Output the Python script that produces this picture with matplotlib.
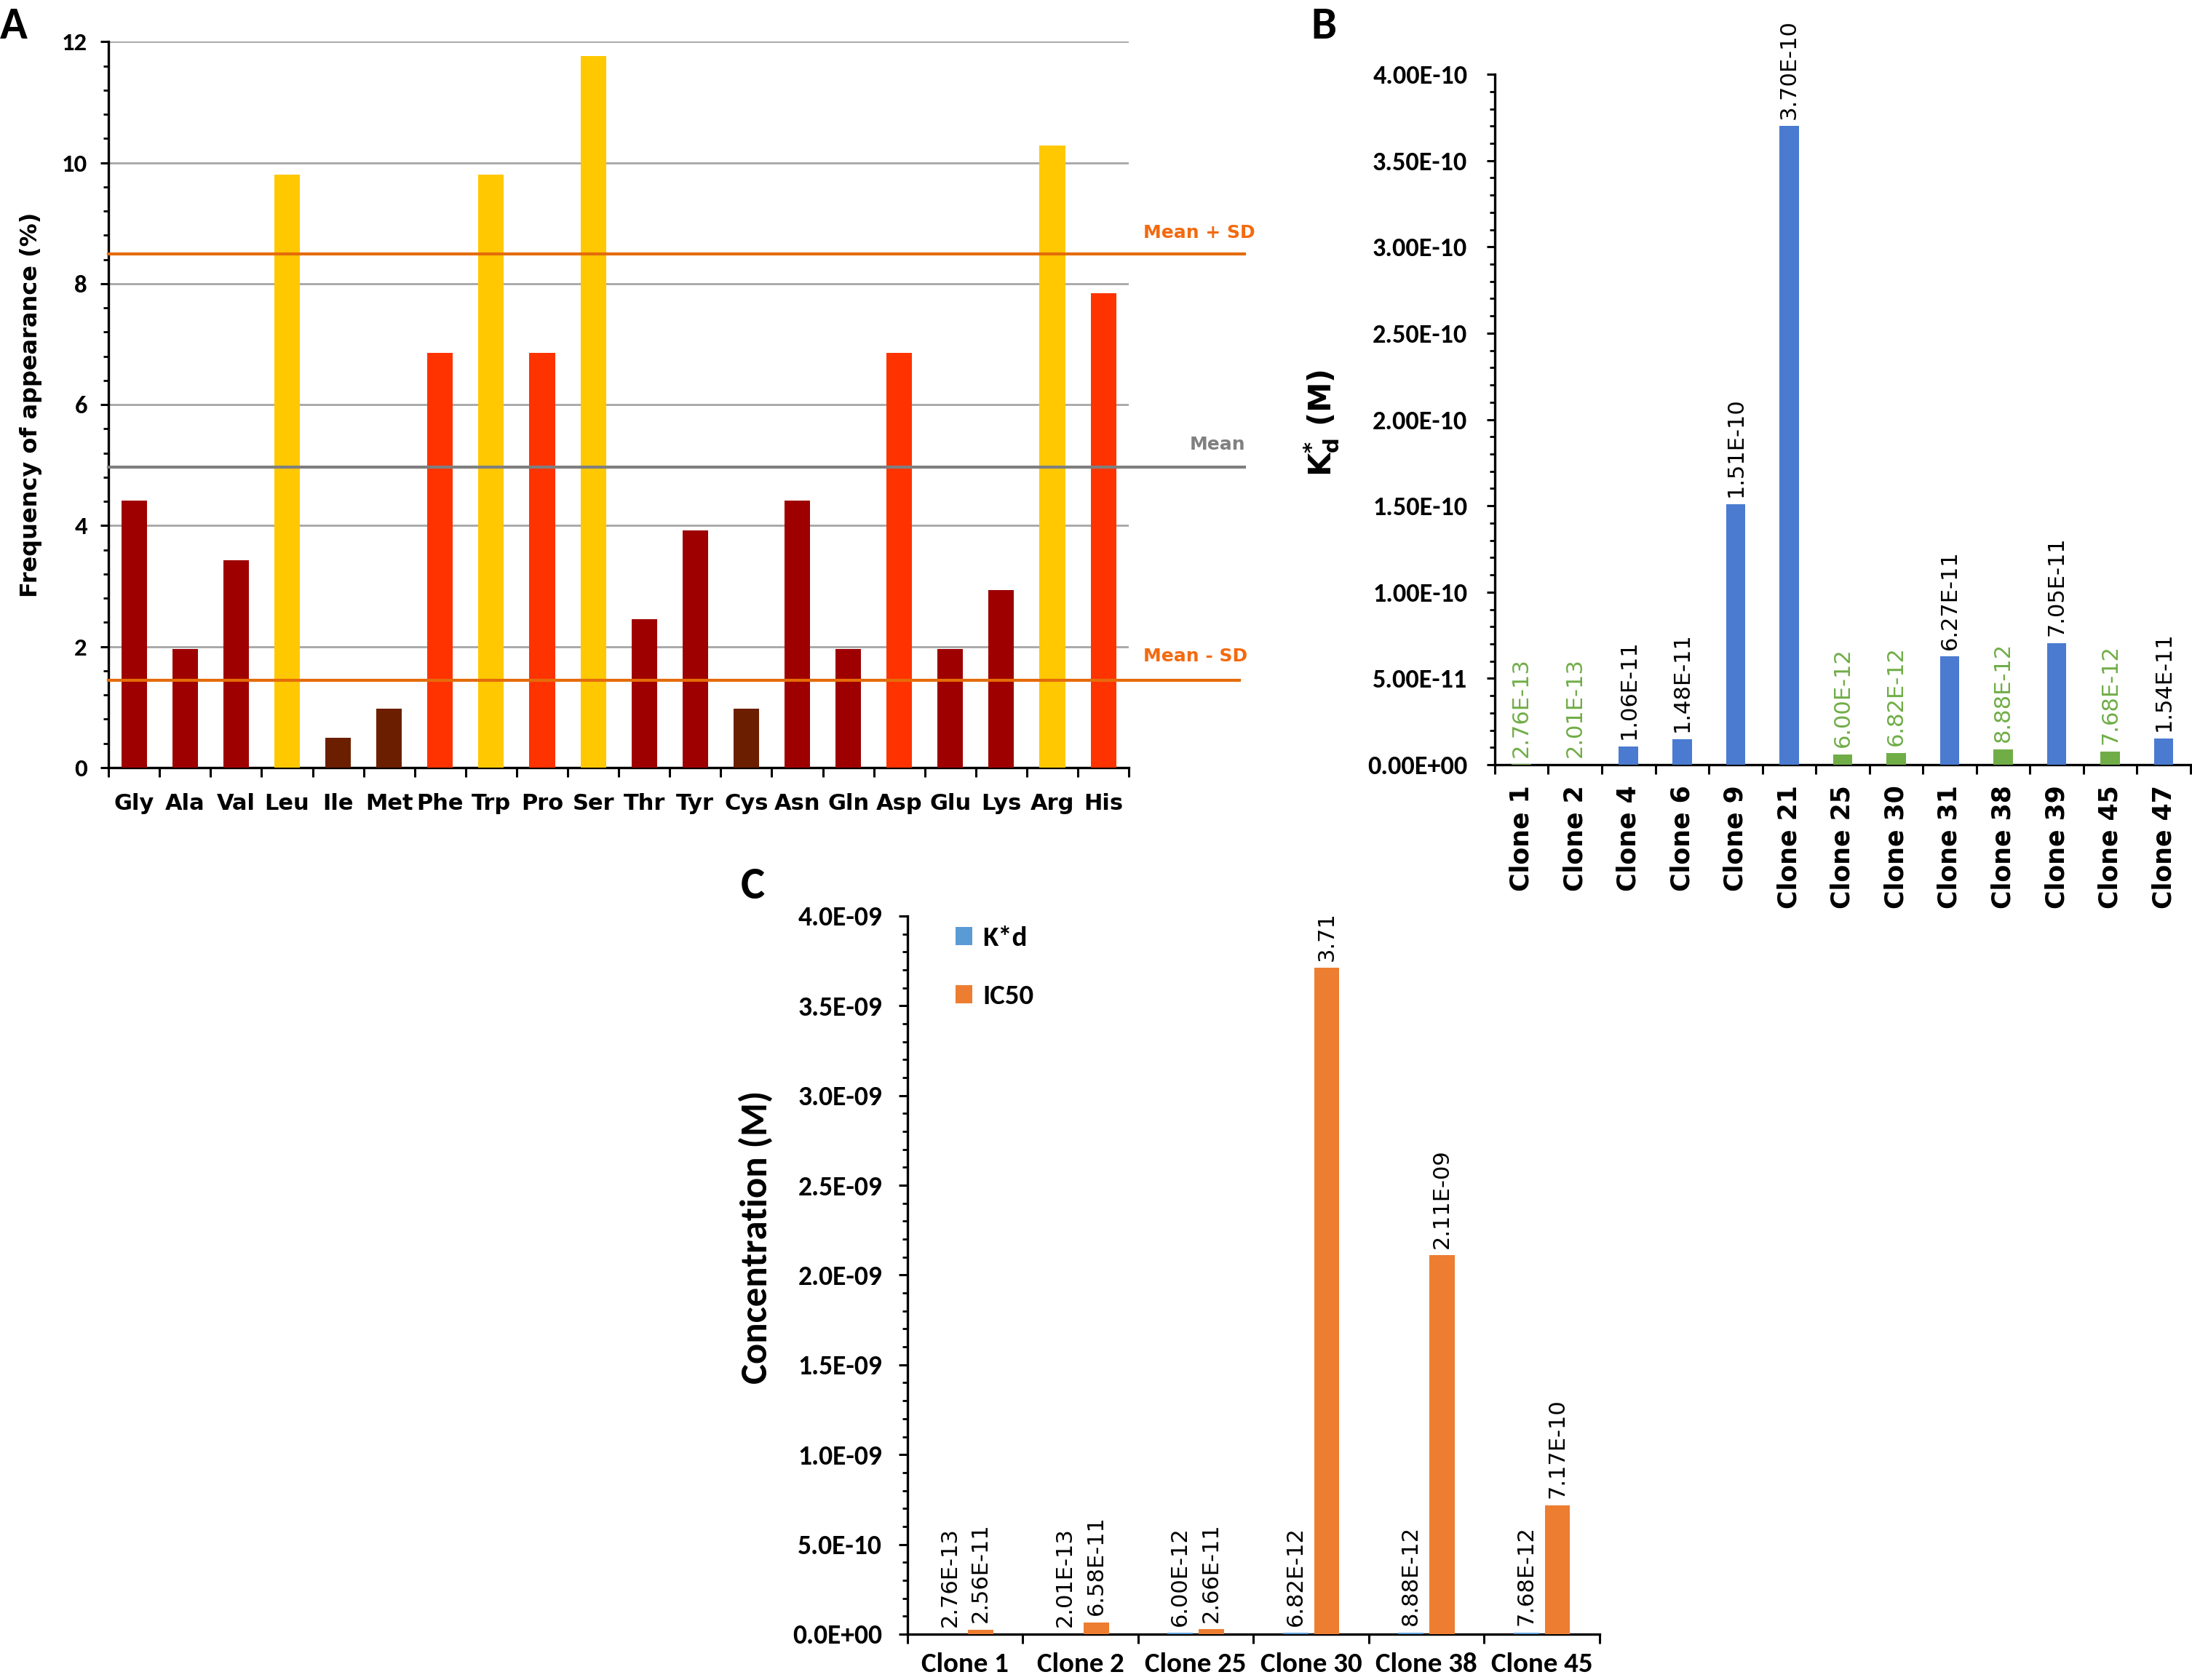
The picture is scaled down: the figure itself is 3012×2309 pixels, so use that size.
import numpy as np
import matplotlib.pyplot as plt
from matplotlib.ticker import MultipleLocator, FuncFormatter

# panel A data
amino = ['Gly', 'Ala', 'Val', 'Leu', 'Ile', 'Met', 'Phe', 'Trp', 'Pro', 'Ser',
         'Thr', 'Tyr', 'Cys', 'Asn', 'Gln', 'Asp', 'Glu', 'Lys', 'Arg', 'His']
freq = [4.41, 1.96, 3.43, 9.80, 0.49, 0.98, 6.86, 9.80, 6.86, 11.76,
        2.45, 3.92, 0.98, 4.41, 1.96, 6.86, 1.96, 2.94, 10.29, 7.84]
mean_val = 4.97
mean_plus_sd = 8.49
mean_minus_sd = 1.44

# panel B data
clones = ['Clone 1', 'Clone 2', 'Clone 4', 'Clone 6', 'Clone 9', 'Clone 21', 'Clone 25',
          'Clone 30', 'Clone 31', 'Clone 38', 'Clone 39', 'Clone 45', 'Clone 47']
kd = [2.76e-13, 2.01e-13, 1.06e-11, 1.48e-11, 1.51e-10, 3.70e-10, 6.00e-12,
      6.82e-12, 6.27e-11, 8.88e-12, 7.05e-11, 7.68e-12, 1.54e-11]

# panel C data
c_clones = ['Clone 1', 'Clone 2', 'Clone 25', 'Clone 30', 'Clone 38', 'Clone 45']
c_kd = [2.76e-13, 2.01e-13, 6.00e-12, 6.82e-12, 8.88e-12, 7.68e-12]
c_ic50 = [2.56e-11, 6.58e-11, 2.66e-11, 3.71e-09, 2.11e-09, 7.17e-10]

CAL = ['Carlito', 'DejaVu Sans']
VER = ['DejaVu Sans']

def bar_color(v):
    if v > mean_plus_sd:
        return '#FFC800'
    if v > mean_val:
        return '#FF3300'
    if v > mean_minus_sd:
        return '#9E0000'
    return '#6B1F00'

def excel_xaxis(ax, n, labels, pad, **kw):
    ax.set_xlim(-0.5, n - 0.5)
    ax.set_xticks(np.arange(n + 1) - 0.5)
    ax.set_xticklabels([])
    ax.set_xticks(np.arange(n), minor=True)
    ax.set_xticklabels(labels, minor=True, **kw)
    ax.tick_params(axis='x', which='major', length=9, width=2.2, direction='out')
    ax.tick_params(axis='x', which='minor', length=0, pad=pad)

def style_axes(ax):
    for s in ['top', 'right']:
        ax.spines[s].set_visible(False)
    for s in ['left', 'bottom']:
        ax.spines[s].set_linewidth(2.4)
    ax.tick_params(axis='y', which='major', length=8, width=2.2, direction='out')
    ax.tick_params(axis='y', which='minor', length=5, width=2, direction='out')

def style_yticks(ax, fam, size):
    for t in ax.get_yticklabels():
        t.set_fontfamily(fam)
        t.set_fontweight('bold')
        t.set_fontsize(size)

fig = plt.figure(figsize=(30.12, 23.09), dpi=100)

# ---------------- A ----------------
axA = fig.add_axes([0.0495, 0.5431, 0.4655, 0.4320])
style_axes(axA)
n = len(amino)
axA.bar(np.arange(n), freq, width=0.5, color=[bar_color(v) for v in freq], zorder=3)
axA.set_ylim(0, 12)
axA.yaxis.set_major_locator(MultipleLocator(2))
axA.yaxis.set_minor_locator(MultipleLocator(0.4))
axA.yaxis.grid(True, color='#A6A6A6', linewidth=2, zorder=0)
axA.set_axisbelow(True)
excel_xaxis(axA, n, amino, pad=25, fontfamily=VER, fontweight='bold', fontsize=22)
axA.tick_params(axis='y', which='major', pad=13)
style_yticks(axA, CAL, 25)
axA.set_ylabel('Frequency of appearance (%)', fontfamily=VER, fontweight='bold', fontsize=23)
axA.yaxis.set_label_coords(-0.065, 0.5)

trans = axA.get_yaxis_transform()
axA.plot([0, 1.113], [mean_plus_sd] * 2, color='#E46C0A', lw=3, transform=trans, clip_on=False, zorder=4)
axA.plot([0, 1.113], [mean_val] * 2, color='#7F7F7F', lw=3, transform=trans, clip_on=False, zorder=4)
axA.plot([0, 1.108], [mean_minus_sd] * 2, color='#E46C0A', lw=3, transform=trans, clip_on=False, zorder=4)
axA.text(1.069, mean_plus_sd + 0.35, 'Mean + SD', color='#F36A10', transform=trans,
         ha='center', va='center', fontsize=18, fontweight='bold', fontfamily=VER)
axA.text(1.087, mean_val + 0.37, 'Mean', color='#808080', transform=trans,
         ha='center', va='center', fontsize=18, fontweight='bold', fontfamily=VER)
axA.text(1.065, mean_minus_sd + 0.4, 'Mean - SD', color='#F36A10', transform=trans,
         ha='center', va='center', fontsize=18, fontweight='bold', fontfamily=VER)

# ---------------- B ----------------
axB = fig.add_axes([0.6819, 0.5448, 0.3174, 0.4110])
style_axes(axB)
nb = len(clones)
b_cols = ['#70AD47' if c in c_clones else '#4A7BD0' for c in clones]
axB.bar(np.arange(nb), kd, width=0.36, color=b_cols, zorder=3)
axB.set_ylim(0, 4e-10)
axB.yaxis.set_major_locator(MultipleLocator(0.5e-10))
axB.yaxis.set_minor_locator(MultipleLocator(1e-11))
axB.yaxis.set_major_formatter(FuncFormatter(lambda v, p: '{:.2E}'.format(v)))
excel_xaxis(axB, nb, clones, pad=20, fontfamily=VER, fontweight='bold', fontsize=25, rotation=90)
axB.tick_params(axis='y', which='major', pad=19)
style_yticks(axB, CAL, 26)
for i, v in enumerate(kd):
    tc = '#70AD47' if clones[i] in c_clones else 'black'
    axB.annotate('{:.2E}'.format(v), (i, v), xytext=(0, 7), textcoords='offset points',
                 rotation=90, ha='center', va='bottom', fontsize=22, color=tc,
                 fontfamily=VER, annotation_clip=False)
axB.set_ylabel(r'K$^{\mathbf{*}}_{\mathbf{d}}$ (M)', fontfamily=VER, fontweight='bold', fontsize=30)
axB.yaxis.set_label_coords(-0.221, 0.495)

# ---------------- C ----------------
axC = fig.add_axes([0.4140, 0.0273, 0.3157, 0.4275])
style_axes(axC)
nc = len(c_clones)
xc = np.arange(nc)
off = 0.135
axC.bar(xc - off, c_kd, width=0.22, color='#5B9BD5', label='K*d', zorder=3)
axC.bar(xc + off, c_ic50, width=0.22, color='#ED7D31', label='IC50', zorder=3)
axC.set_ylim(0, 4e-9)
axC.yaxis.set_major_locator(MultipleLocator(0.5e-9))
axC.yaxis.set_minor_locator(MultipleLocator(1e-10))
axC.yaxis.set_major_formatter(FuncFormatter(lambda v, p: '{:.1E}'.format(v)))
excel_xaxis(axC, nc, c_clones, pad=18, fontfamily=CAL, fontweight='bold', fontsize=28)
axC.tick_params(axis='y', which='major', length=9, pad=16)
style_yticks(axC, CAL, 27)
for i in range(nc):
    axC.annotate('{:.2E}'.format(c_kd[i]), (xc[i] - off, c_kd[i]), xytext=(0, 7),
                 textcoords='offset points', rotation=90, ha='center', va='bottom',
                 fontsize=22, fontfamily=VER)
    axC.annotate('{:.2E}'.format(c_ic50[i]), (xc[i] + off, c_ic50[i]), xytext=(0, 7),
                 textcoords='offset points', rotation=90, ha='center', va='bottom',
                 fontsize=22, fontfamily=VER, annotation_clip=True, clip_on=True)
axC.set_ylabel('Concentration (M)', fontfamily=CAL, fontweight='bold', fontsize=38)
axC.yaxis.set_label_coords(-0.195, 0.553)
axC.legend(loc='upper left', bbox_to_anchor=(0.049, 1.005), frameon=False, borderpad=0,
           handlelength=0.6, handleheight=0.6, handletextpad=0.35, labelspacing=1.2,
           prop={'family': CAL, 'weight': 'bold', 'size': 28})

# panel letters
fig.text(0.0, 0.996, 'A', fontsize=45, fontweight='bold', fontfamily=CAL, va='top')
fig.text(0.598, 0.996, 'B', fontsize=45, fontweight='bold', fontfamily=CAL, va='top')
fig.text(0.338, 0.484, 'C', fontsize=45, fontweight='bold', fontfamily=CAL, va='top')

fig.savefig('out.png', dpi=100)
